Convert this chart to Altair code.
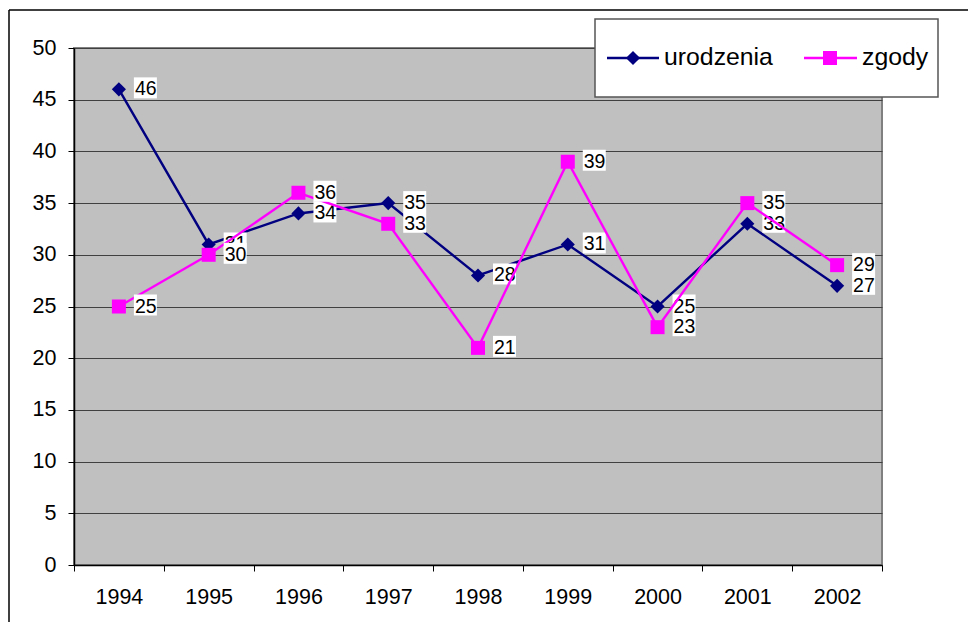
import altair as alt
import pandas as pd

years = ["1994", "1995", "1996", "1997", "1998", "1999", "2000", "2001", "2002"]
urodzenia = [46, 31, 34, 35, 28, 31, 25, 33, 27]
zgody = [25, 30, 36, 33, 21, 39, 23, 35, 29]
series_names = ["urodzenia", "zgody"]
colors = ["#000080", "#FF00FF"]
y_ticks = [0, 5, 10, 15, 20, 25, 30, 35, 40, 45, 50]

FONT = "Liberation Sans"

df = pd.DataFrame({
    "year": years * 2,
    "value": urodzenia + zgody,
    "series": [series_names[0]] * len(years) + [series_names[1]] * len(years),
})

x_enc = alt.X("year:O", sort=years,
              scale=alt.Scale(type="band", paddingInner=0, paddingOuter=0),
              axis=alt.Axis(title=None, labelAngle=0, tickBand="extent", grid=False,
                            domainColor="black", domainWidth=1.5, tickColor="black",
                            tickSize=6, tickWidth=1, labelFont=FONT, labelFontSize=21.5,
                            labelColor="black", labelPadding=15))
y_enc = alt.Y("value:Q", scale=alt.Scale(domain=[0, 50], nice=False, zero=True),
              axis=alt.Axis(title=None, values=y_ticks, grid=True, gridColor="#404040",
                            gridWidth=1, domainColor="black", domainWidth=1.5,
                            tickColor="black", tickSize=6, tickWidth=1, labelFont=FONT,
                            labelFontSize=21.5, labelColor="black", labelPadding=12))

base = alt.Chart(df)
BOX = "M0.75,-0.6H1.9V0.45H0.75Z"


def series_layers(name, color, shape, size):
    d = base.transform_filter(alt.datum.series == name)
    line = d.mark_line(color=color, strokeWidth=2.4).encode(x=x_enc, y=y_enc)
    pts = d.mark_point(shape=shape, filled=True, color=color, size=size, opacity=1).encode(
        x=alt.X("year:O", sort=years), y="value:Q")
    box = d.mark_point(shape=BOX, filled=True, color="white", size=1600, opacity=1).encode(
        x=alt.X("year:O", sort=years), y="value:Q")
    txt = d.mark_text(align="left", baseline="middle", dx=16, dy=0, font=FONT,
                      fontSize=19.5, color="black").encode(
        x=alt.X("year:O", sort=years), y="value:Q", text="value:Q")
    return [line, pts, box, txt]


layers = []
layers += series_layers(series_names[0], colors[0], "diamond", 200)
layers += series_layers(series_names[1], colors[1], "square", 196)

one = alt.Chart(pd.DataFrame({"a": [0]}))
# legend
layers.append(one.mark_rect(fill="white", stroke="#555555", strokeWidth=1.5).encode(
    x=alt.value(521), x2=alt.value(864), y=alt.value(-29), y2=alt.value(49)))
layers.append(one.mark_rule(color=colors[0], strokeWidth=2.4).encode(
    x=alt.value(533), x2=alt.value(585), y=alt.value(10)))
layers.append(one.mark_point(shape="diamond", filled=True, color=colors[0], size=200, opacity=1).encode(
    x=alt.value(559), y=alt.value(10)))
layers.append(one.mark_text(text=series_names[0], align="left", baseline="middle", font=FONT,
                            fontSize=24.8, color="black").encode(x=alt.value(590), y=alt.value(10)))
layers.append(one.mark_rule(color=colors[1], strokeWidth=2.4).encode(
    x=alt.value(730), x2=alt.value(783), y=alt.value(10)))
layers.append(one.mark_point(shape="square", filled=True, color=colors[1], size=196, opacity=1).encode(
    x=alt.value(756), y=alt.value(10)))
layers.append(one.mark_text(text=series_names[1], align="left", baseline="middle", font=FONT,
                            fontSize=24.8, color="black").encode(x=alt.value(788), y=alt.value(10)))
# outer chart border
layers.append(one.mark_rule(color="black", strokeWidth=1.5).encode(
    x=alt.value(-65), y=alt.value(-38), y2=alt.value(620)))
layers.append(one.mark_rule(color="black", strokeWidth=1.5).encode(
    x=alt.value(-65), x2=alt.value(960), y=alt.value(-38)))

chart = alt.layer(*layers).properties(
    width=808, height=517,
    autosize=alt.AutoSizeParams(type="none"),
    padding={"left": 66, "top": 40, "right": 86, "bottom": 57},
    background="white",
).configure_view(fill="#C0C0C0", stroke="#808080", strokeWidth=2)

chart.save("out.html", embed_options={"renderer": "svg", "actions": False})
